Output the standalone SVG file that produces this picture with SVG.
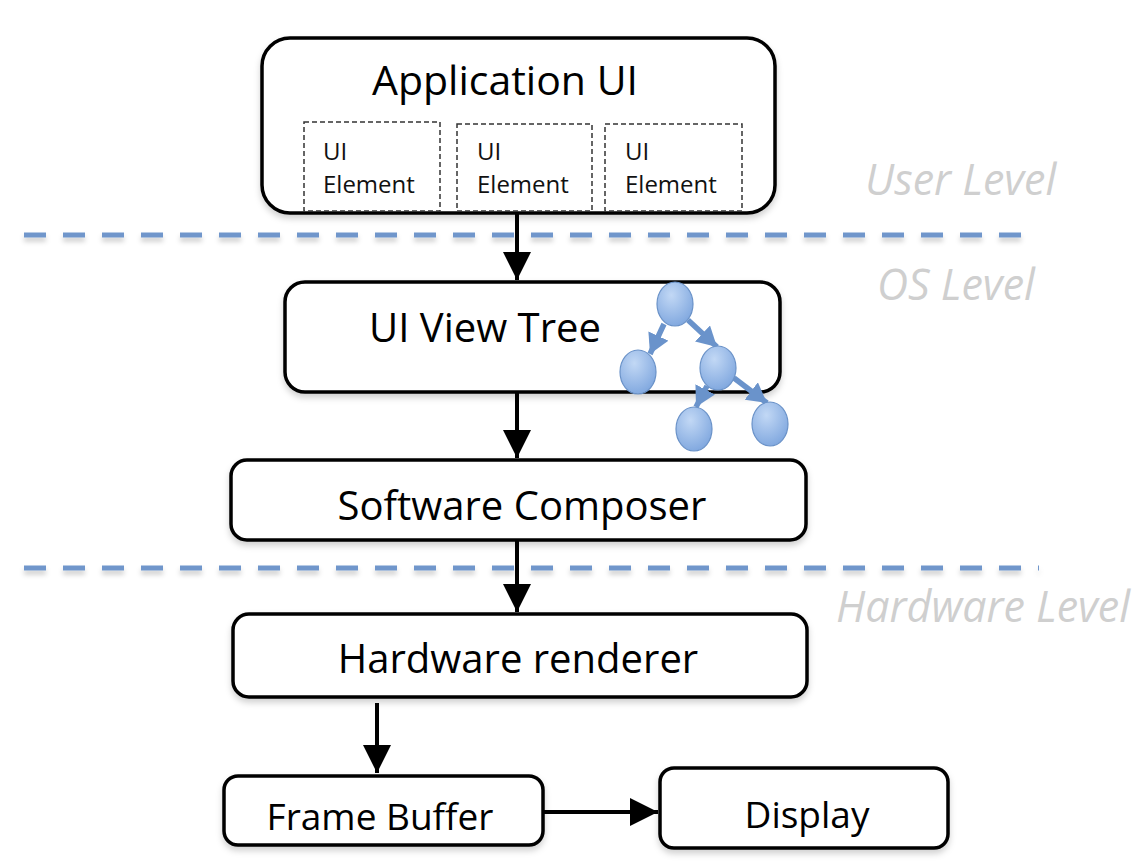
<svg xmlns="http://www.w3.org/2000/svg" width="1143" height="861" viewBox="0 0 1143 861">
<defs>
<filter id="sh" x="-10%" y="-10%" width="120%" height="130%">
<feDropShadow dx="0" dy="4" stdDeviation="3" flood-color="#000" flood-opacity="0.18"/>
</filter>
<filter id="lsh" filterUnits="userSpaceOnUse" x="0" y="200" width="1143" height="400">
<feDropShadow dx="0" dy="4" stdDeviation="2.5" flood-color="#000" flood-opacity="0.2"/>
</filter>
<radialGradient id="bub" cx="40%" cy="30%" r="75%">
<stop offset="0" stop-color="#c2d8f5"/>
<stop offset="1" stop-color="#7ea6de"/>
</radialGradient>
<marker id="ah" markerWidth="7" markerHeight="7.5" refX="7" refY="3.5" orient="auto" markerUnits="strokeWidth">
<path d="M0,0 L7,3.5 L0,7 Z" fill="#000"/>
</marker>
<marker id="bh" markerWidth="4" markerHeight="4" refX="3.6" refY="2" orient="auto" markerUnits="strokeWidth">
<path d="M0,0 L3.6,2 L0,4 Z" fill="#6a93cb"/>
</marker>
<style>
.box{fill:#fff;stroke:#000;stroke-width:3.5;filter:url(#sh)}
.sub{fill:none;stroke:#333;stroke-width:1.5;stroke-dasharray:5 3}
.lbl{font-family:"Open Sans","Liberation Sans",sans-serif;fill:#000;text-anchor:middle}
.sm{font-family:"Open Sans","Liberation Sans",sans-serif;fill:#111;font-size:24px}
.lvl{font-family:"Open Sans","Liberation Sans",sans-serif;font-style:italic;fill:#cfcfcf;font-size:43px}
.sep{stroke:#6f96cb;stroke-width:5;stroke-dasharray:22 17;fill:none;filter:url(#lsh)}
.arr{stroke:#000;stroke-width:4;fill:none;marker-end:url(#ah)}
.bub{fill:url(#bub);stroke:#6a92c8;stroke-width:1.2}
.tarr{stroke:#6a93cb;stroke-width:5.5;fill:none;marker-end:url(#bh)}
</style>
</defs>

<g id="levels">
<line class="sep" x1="24" y1="235" x2="1032" y2="235"/>
<line class="sep" x1="24" y1="568" x2="1039" y2="568"/>
<text class="lvl" x="865" y="195">User Level</text>
<text class="lvl" x="877" y="300">OS Level</text>
<text class="lvl" x="836" y="622">Hardware Level</text>
</g>

<g id="app-ui">
<rect class="box" x="262" y="38" width="513" height="175" rx="28"/>
<text class="lbl" x="505" y="95" font-size="41">Application UI</text>
</g>
<g id="ui-element-1">
<rect class="sub" x="304" y="122" width="136" height="89"/>
<text class="sm" x="323" y="160">UI</text>
<text class="sm" x="323" y="193">Element</text>
</g>
<g id="ui-element-2">
<rect class="sub" x="457" y="124" width="135" height="87"/>
<text class="sm" x="477" y="160">UI</text>
<text class="sm" x="477" y="193">Element</text>
</g>
<g id="ui-element-3">
<rect class="sub" x="605" y="124" width="137" height="87"/>
<text class="sm" x="625" y="160">UI</text>
<text class="sm" x="625" y="193">Element</text>
</g>

<g id="ui-view-tree">
<rect class="box" x="285" y="282" width="495" height="110" rx="20"/>
<text class="lbl" x="485" y="342" font-size="40">UI View Tree</text>
</g>

<g id="tree-icon">
<line class="tarr" x1="664" y1="324" x2="650" y2="354"/>
<line class="tarr" x1="688" y1="320" x2="717" y2="347"/>
<line class="tarr" x1="707" y1="386" x2="696" y2="407"/>
<line class="tarr" x1="734" y1="378" x2="767" y2="403"/>
<ellipse class="bub" cx="675" cy="304" rx="18" ry="22"/>
<ellipse class="bub" cx="638" cy="372" rx="18" ry="22"/>
<ellipse class="bub" cx="718" cy="368" rx="18" ry="22"/>
<ellipse class="bub" cx="694" cy="429" rx="18" ry="22"/>
<ellipse class="bub" cx="770" cy="424" rx="18" ry="22"/>
</g>

<g id="software-composer">
<rect class="box" x="231" y="460" width="575" height="80" rx="16"/>
<text class="lbl" x="522" y="520" font-size="40">Software Composer</text>
</g>

<g id="hardware-renderer">
<rect class="box" x="233" y="614" width="574" height="83" rx="16"/>
<text class="lbl" x="518" y="673" font-size="40">Hardware renderer</text>
</g>

<g id="frame-buffer">
<rect class="box" x="224" y="776" width="319" height="69" rx="14"/>
<text class="lbl" x="380" y="830" font-size="37">Frame Buffer</text>
</g>

<g id="display">
<rect class="box" x="660" y="768" width="288" height="80" rx="14"/>
<text class="lbl" x="807" y="828" font-size="37">Display</text>
</g>

<g id="connectors">
<line class="arr" x1="517" y1="213" x2="517" y2="280"/>
<line class="arr" x1="517" y1="393" x2="517" y2="458"/>
<line class="arr" x1="517" y1="541" x2="517" y2="612"/>
<line class="arr" x1="377" y1="703" x2="377" y2="773"/>
<line class="arr" x1="543" y1="812" x2="658" y2="812"/>
</g>
</svg>
